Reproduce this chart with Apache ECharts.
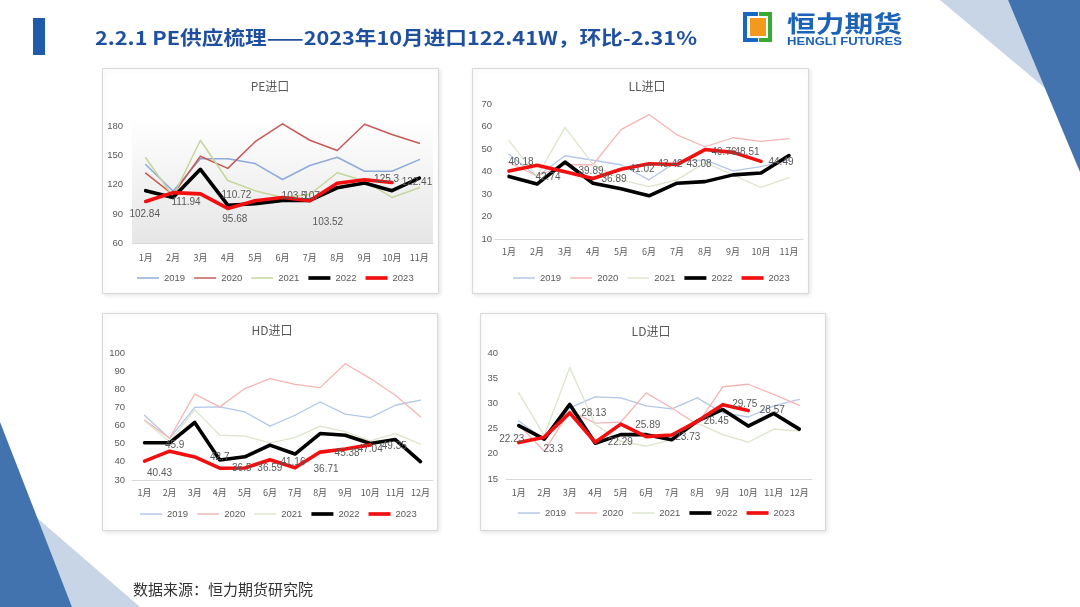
<!DOCTYPE html>
<html><head><meta charset="utf-8">
<script src="https://cdn.jsdelivr.net/npm/echarts@6/dist/echarts.min.js"></script>
<style>html,body{margin:0;padding:0;background:#fff}#c{width:1080px;height:607px}</style>
</head><body><div id="c"></div>
<script>
// ---------- data ----------
const months11 = ['1月','2月','3月','4月','5月','6月','7月','8月','9月','10月','11月'];
const months12 = ['1月','2月','3月','4月','5月','6月','7月','8月','9月','10月','11月','12月'];
const years = ['2019','2020','2021','2022','2023'];

const pe2019 = [141, 113.5, 147, 147, 142, 125.5, 140, 148.5, 134, 134, 146];
const pe2020 = [132, 110, 149.5, 137, 164.5, 183, 166, 155.5, 182.5, 172, 163];
const pe2021 = [148, 108, 166, 124.5, 114, 107, 110, 132.5, 124, 107, 117];
const pe2022 = [114, 107, 136, 99, 100.5, 104, 104, 117, 122, 114, 127];
const pe2023 = [102.84, 111.94, 110.72, 95.68, 103.5, 107, 103.52, 121.59, 125.3, 122.41];

const ll2019 = [47.7, 37.8, 47, 45, 43, 36.3, 44.5, 45.2, 40.3, 42.2, 45.2];
const ll2020 = [44, 38, 43, 43, 58.6, 65.3, 56.3, 51, 55, 53.4, 54.6];
const ll2021 = [53.7, 37.8, 59.6, 43.3, 36.3, 33.3, 36.3, 44, 38.5, 32.9, 37.3];
const ll2022 = [37.8, 34.4, 44.2, 34.8, 32.3, 29.2, 34.8, 35.5, 38.5, 39.3, 47.1];
const ll2023 = [40.18, 42.74, 39.89, 36.89, 41.02, 43.42, 43.08, 49.76, 48.51, 44.49];

const hd2019 = [65.7, 52.9, 70, 70.3, 67.5, 59.7, 65.7, 73, 66.3, 64.4, 71.2, 74];
const hd2020 = [63, 53, 77.3, 70.3, 80.4, 85.9, 82.7, 80.9, 94.1, 85.9, 76.7, 64.8];
const hd2021 = [62.6, 51, 68.8, 54.7, 54.2, 50.5, 53.4, 59.7, 56.6, 51.6, 55.6, 49.8];
const hd2022 = [50.5, 50.5, 61.7, 41, 42.8, 49.2, 44.3, 55.6, 54.7, 50.1, 52.3, 40.1];
const hd2023 = [40.43, 45.9, 42.7, 36.5, 36.59, 41.16, 36.71, 45.38, 47.04, 49.35];

const ld2019 = [26.5, 22.8, 29.1, 31.3, 31.1, 29.5, 28.9, 31.1, 28.1, 27.3, 29.5, 30.8];
const ld2020 = [25.8, 20.5, 28.5, 26.1, 26.3, 32.1, 29.1, 25.8, 33.3, 33.8, 31.8, 29.6];
const ld2021 = [32.1, 23.6, 37.1, 25.8, 22.5, 21.5, 22.8, 26.1, 23.8, 22.3, 24.9, 24.5];
const ld2022 = [25.6, 22.9, 29.8, 22.1, 23.8, 23.8, 22.8, 26.5, 28.8, 25.5, 28, 24.9];
const ld2023 = [22.23, 23.3, 28.13, 22.29, 25.89, 23.4, 23.73, 26.45, 29.75, 28.57];

const chartTitles = ['PE进口', 'LL进口', 'HD进口', 'LD进口'];
const pageTitle = '2.2.1 PE供应梳理——2023年10月进口122.41W，环比-2.31%';
const sourceText = '数据来源：恒力期货研究院';

// ---------- label placement (offsets of 2023 labels, px) ----------
const peLab = [[-1,13],[13,10],[36,1],[7,11],[39,-5],[29,-1],[18,21],null,[22,0],[25,0]];
const llLab = [[12,-9],[11,12],[26,0],[21,1],[21,0],[21,0],[22,0],[19,3],[14,0],[20,1]];
const hdLab = [[15,12],[5,-6],[25,0],[22,0],[25,0],[23,2],[31,1],[27,1],[25,0],[24,1]];
const ldLab = [[-7,-3],[9,12],[24,0],[25,0],[27,1],null,[16,2],[19,0],[22,0],[24,0]];

// ---------- styles ----------
const GRAY = '#595959';
const peColors = ['#8FAADC', '#C65A57', '#C4D79B', '#000000', '#F20F0F'];
const paleColors = ['#B4C7E7', '#F4B5B5', '#DCE5CC', '#000000', '#F20F0F'];
const FONT = '"Liberation Sans", Arial, sans-serif';
const CJK = '"Noto Sans CJK SC", sans-serif';

const grids = [
  {left:132, top:117, width:301, height:126},
  {left:495, top:104, width:308, height:135},
  {left:132, top:353, width:301, height:127},
  {left:506, top:353, width:306, height:126}
];
grids[0].show = true; grids[0].borderWidth = 0;
grids[0].backgroundColor = {type:'linear', x:0, y:0, x2:0, y2:1,
  colorStops:[{offset:0,color:'#FFFFFF'},{offset:1,color:'#E6E6E6'}]};

const yAxes = [
  {min:60, max:190, interval:30},
  {min:10, max:70, interval:10},
  {min:30, max:100, interval:10},
  {min:15, max:40, interval:5}
];
const xCats = [months11, months11, months12, months12];
const xMargins = [10, 8, 8, 9];
const yMargins = [9, 3, 7, 8];

function measure(text, font) {
  const c = document.createElement('canvas').getContext('2d');
  c.font = font; return c.measureText(text).width;
}

const thinIcon = 'path://M0 0H24V1.6H0Z';
const thickIcon = 'path://M0 0H24V4H0Z';

function makeSeries(gi, arrays, colors, labs) {
  return arrays.map((vals, k) => {
    const thick = k >= 3;
    return {
      type:'line', name: years[k], xAxisIndex: gi, yAxisIndex: gi,
      z: 2 + k,
      symbol:'circle', symbolSize:1, showSymbol:true, showAllSymbol:true,
      itemStyle:{color: colors[k]},
      lineStyle:{color: colors[k], width: thick ? 3.6 : (gi===0 ? 1.5 : 1.3), cap:'round', join:'round'},
      label:{show:false},
      emphasis:{disabled:true},
      data: vals.map((v, i) => (k === 4 && labs[i]) ? {
        value: v,
        label:{show:true, position:'inside', offset: labs[i], color: GRAY, fontSize: 10, fontFamily: FONT}
      } : v)
    };
  });
}

const series = [
  ...makeSeries(0, [pe2019, pe2020, pe2021, pe2022, pe2023], peColors, peLab),
  ...makeSeries(1, [ll2019, ll2020, ll2021, ll2022, ll2023], paleColors, llLab),
  ...makeSeries(2, [hd2019, hd2020, hd2021, hd2022, hd2023], paleColors, hdLab),
  ...makeSeries(3, [ld2019, ld2020, ld2021, ld2022, ld2023], paleColors, ldLab)
];

const legendPos = [[137, 273], [513, 273], [140, 509], [518, 508]];
const legends = legendPos.map((p, gi) => ({
  left: p[0], top: p[1], padding: 0, itemWidth: 22, itemHeight: 10, itemGap: 9,
  selectedMode: false,
  textStyle: {color: GRAY, fontSize: 9.5, fontFamily: FONT},
  data: years.map((y, k) => ({
    name: y, icon: k >= 3 ? thickIcon : thinIcon,
    itemStyle: {color: (gi === 0 ? peColors : paleColors)[k]}
  }))
}));

// ---------- decorations ----------
const panels = [[102,68,336,225],[472,68,336,225],[102,313,335,217],[480,313,345,217]];
const titlePos = [[270,86],[647,86],[272,330],[651,331]];

const titleFont = 'bold 19px "Noto Sans CJK SC"';
const titleScale = 602 / measure(pageTitle, titleFont);
const logoFont = 'bold 23px "Noto Sans CJK SC"';
const logoScale = 115 / measure('恒力期货', logoFont);
const engFont = 'bold 10.5px "Liberation Sans"';
const engScale = 115 / measure('HENGLI FUTURES', engFont);

const graphic = [
  {type:'polygon', shape:{points:[[940,0],[1008,0],[1045,88]]}, style:{fill:'#C8D5E6'}, z:-20},
  {type:'polygon', shape:{points:[[1008,0],[1080,0],[1080,172]]}, style:{fill:'#4273AE'}, z:-20},
  {type:'polygon', shape:{points:[[36,517],[140,607],[72,607]]}, style:{fill:'#C8D5E6'}, z:-20},
  {type:'polygon', shape:{points:[[0,422],[72,607],[0,607]]}, style:{fill:'#4273AE'}, z:-20},
  {type:'rect', shape:{x:33, y:18, width:12, height:37}, style:{fill:'#1F5BAA'}},
  {type:'text', x:95, y:38, scaleX: titleScale, style:{text: pageTitle, font: titleFont, fill:'#1F4F9F', align:'left', verticalAlign:'middle'}},
  // logo icon
  {type:'rect', shape:{x:743, y:12, width:15, height:30}, style:{fill:'#1867C2'}},
  {type:'rect', shape:{x:759, y:12, width:13, height:30}, style:{fill:'#3BA935'}},
  {type:'rect', shape:{x:747, y:16, width:21, height:22}, style:{fill:'#FFFFFF'}},
  {type:'rect', shape:{x:750, y:18, width:16, height:18}, style:{fill:'#F39A1E'}},
  {type:'text', x:787, y:23, scaleX: logoScale, style:{text:'恒力期货', font: logoFont, fill:'#1C63B7', align:'left', verticalAlign:'middle'}},
  {type:'text', x:787, y:42, scaleX: engScale, style:{text:'HENGLI FUTURES', font: engFont, fill:'#1C63B7', align:'left', verticalAlign:'middle'}},
  {type:'text', x:133, y:589, style:{text: sourceText, font:'15px "Noto Sans CJK SC"', fill:'#333333', align:'left', verticalAlign:'middle'}}
];
panels.forEach(p => graphic.push({type:'rect', shape:{x:p[0]+0.5, y:p[1]+0.5, width:p[2], height:p[3]},
  style:{fill:'#FFFFFF', stroke:'#D9D9D9', lineWidth:1, shadowBlur:4, shadowColor:'rgba(0,0,0,0.10)', shadowOffsetX:1, shadowOffsetY:1}, z:-10}));
titlePos.forEach((p, i) => graphic.push({type:'text', x:p[0], y:p[1],
  style:{text: chartTitles[i], font:'12px ' + CJK, fill: GRAY, align:'center', verticalAlign:'middle'}}));

const option = {
  animation: false,
  backgroundColor: '#FFFFFF',
  grid: grids,
  xAxis: xCats.map((cats, i) => ({
    type:'category', gridIndex:i, data: cats, boundaryGap: true,
    axisLine:{show:true, lineStyle:{color:'#D9D9D9', width:1}},
    axisTick:{show:false},
    axisLabel:{color: GRAY, fontSize: 9, fontFamily: CJK, margin: xMargins[i], interval: 0},
    splitLine:{show:false}
  })),
  yAxis: yAxes.map((a, i) => ({
    type:'value', gridIndex:i, min:a.min, max:a.max, interval:a.interval,
    axisLine:{show:false}, axisTick:{show:false}, splitLine:{show:false},
    axisLabel:{color: GRAY, fontSize: 9.5, fontFamily: FONT, margin: yMargins[i], showMaxLabel: i !== 0}
  })),
  legend: legends,
  series: series,
  graphic: {elements: graphic}
};

const chart = echarts.init(document.getElementById('c'), null, {renderer:'canvas'});
chart.setOption(option);
</script>
</body></html>
